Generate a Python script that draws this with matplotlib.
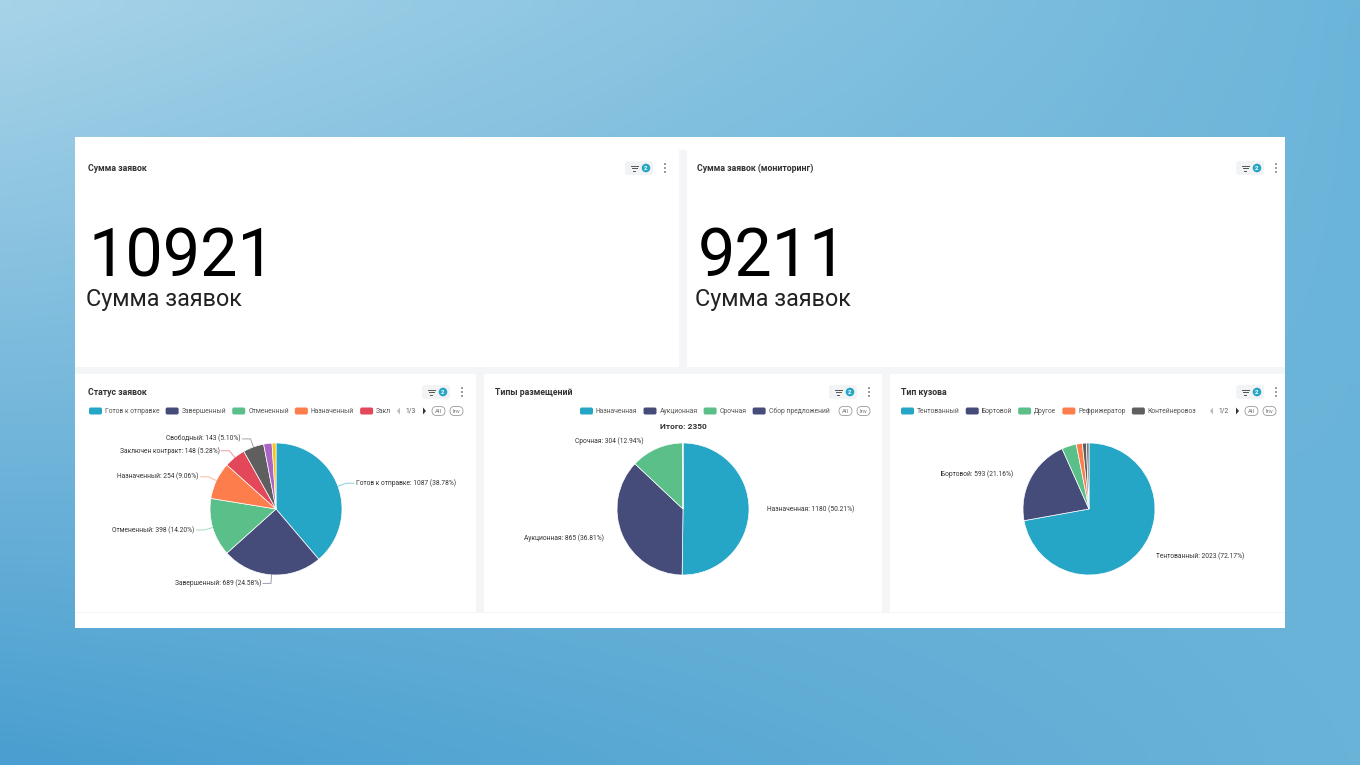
import numpy as np
import matplotlib
matplotlib.use('Agg')
import matplotlib.pyplot as plt
from matplotlib.patches import Rectangle, FancyBboxPatch, Circle, Polygon
from matplotlib.colors import to_rgb
from matplotlib.transforms import Bbox

plt.rcParams['font.family'] = ['Roboto', 'DejaVu Sans']

# --- data ---
orders_total = 10921
orders_monitoring = 9211
kpi_caption = 'Сумма заявок'

status_labels = ['Готов к отправке', 'Завершенный', 'Отмененный', 'Назначенный',
                 'Заключен контракт', 'Свободный', 'Просрочен', 'В работе']
status_values = [1087, 689, 398, 254, 148, 143, 57, 27]
status_colors = ['#26a6c7', '#464c7a', '#5bbf8a', '#fd7e4c', '#e2475a', '#5f5f5f', '#a964c4', '#f6c21c']

placement_labels = ['Назначенная', 'Аукционная', 'Срочная', 'Сбор предложений']
placement_values = [1180, 865, 304, 1]
placement_colors = ['#26a6c7', '#464c7a', '#5bbf8a', '#464c7a']

body_labels = ['Тентованный', 'Бортовой', 'Другое', 'Рефрижератор', 'Контейнеровоз', 'Изотермический']
body_values = [2023, 593, 100, 42, 27, 18]
body_colors = ['#26a6c7', '#464c7a', '#5bbf8a', '#fd7e4c', '#5f5f5f', '#7a7a7a']

W, H = 1360, 765
fig = plt.figure(figsize=(13.6, 7.65), dpi=100)
bg = fig.add_axes([0, 0, 1, 1])
bg.set_xlim(0, W)
bg.set_ylim(H, 0)
bg.axis('off')

# background gradient
tl, tr, bl, br = [np.array(to_rgb(c)) for c in ('#a7d3e8', '#6cb5da', '#4a9fd0', '#6ab3d8')]
u = np.linspace(0, 1, 60)[None, :, None]
v = np.linspace(0, 1, 40)[:, None, None]
grad = (1 - v) * ((1 - u) * tl + u * tr) + v * ((1 - u) * bl + u * br)
bg.imshow(grad, extent=(0, W, H, 0), interpolation='bilinear', aspect='auto', zorder=0)


def rect(x0, y0, x1, y1, color, z=1):
    bg.add_patch(Rectangle((x0, y0), x1 - x0, y1 - y0, facecolor=color, edgecolor='none', zorder=z))


rect(75, 137, 1285, 628, 'white')
rect(75, 150, 1285, 613, '#f4f5f7')
for box in [(75, 137, 679, 367), (687, 137, 1285, 367),
            (75, 374, 476, 612), (484, 374, 882, 612), (890, 374, 1285, 612)]:
    rect(*box, 'white', z=2)


def header(x, y, title, bx):
    bg.text(x, y, title, fontsize=6.3, fontweight='bold', color='#333333', va='center', zorder=3)
    bg.add_patch(FancyBboxPatch((bx, y - 7), 28, 14, boxstyle='round,pad=0,rounding_size=3',
                                fc='#f1f3f5', ec='none', zorder=3))
    for i, w in enumerate([7, 5, 2.5]):
        bg.plot([bx + 9 - w / 2, bx + 9 + w / 2], [y - 2.5 + i * 2.5] * 2, color='#555', lw=0.7, zorder=4)
    bg.add_patch(Circle((bx + 21, y), 4.3, fc='#26a6c7', ec='none', zorder=4))
    bg.text(bx + 21, y + 0.3, '2', fontsize=4.3, color='white', fontweight='bold', ha='center', va='center', zorder=5)
    for dy in (-4, 0, 4):
        bg.add_patch(Circle((bx + 40, y + dy), 0.9, fc='#666', ec='none', zorder=4))


def kpi(x, value, title, bx):
    header(x + 1, 168, title, bx)
    bg.text(x + 2, 276, str(value), fontsize=48, color='black', va='baseline', zorder=3)
    bg.text(x - 1, 306, kpi_caption, fontsize=16.8, color='#222', va='baseline', zorder=3)


kpi(87, orders_total, 'Сумма заявок', 625)
kpi(696, orders_monitoring, 'Сумма заявок (мониторинг)', 1236)

renderer = fig.canvas.get_renderer()


def legend(x, y, labels, colors, clip_x=None):
    for lab, col in zip(labels, colors):
        bg.add_patch(FancyBboxPatch((x, y - 3.5), 13, 7, boxstyle='round,pad=0,rounding_size=1.8',
                                    fc=col, ec='none', zorder=3))
        t = bg.text(x + 16, y, lab, fontsize=4.9, color='#555', va='center', zorder=3)
        w = t.get_window_extent(renderer=renderer).width
        if clip_x is not None and x + 16 + w > clip_x:
            # cut the label that runs into the pager, like the dashboard does
            s = lab
            while s and x + 16 + t.get_window_extent(renderer=renderer).width > clip_x + 4:
                s = s[:-1]
                t.set_text(s)
            t.set_clip_box(Bbox.from_extents(0, 0, clip_x, H))
            t.set_clip_on(True)
            break
        x = x + 16 + w + 6
        if clip_x is not None and x + 20 > clip_x:
            break


def pill(x, y, s):
    bg.add_patch(FancyBboxPatch((x, y - 4.5), 13, 9, boxstyle='round,pad=0,rounding_size=4.5',
                                fc='white', ec='#9a9a9a', lw=0.6, zorder=3))
    bg.text(x + 6.5, y, s, fontsize=4.3, color='#777', ha='center', va='center', zorder=4)


def pager(x, y, s):
    bg.add_patch(Polygon([[x + 3, y - 3.5], [x + 3, y + 3.5], [x, y]], fc='#bbbbbb', ec='none', zorder=3))
    bg.text(x + 14, y, s, fontsize=4.8, color='#555', ha='center', va='center', zorder=3)
    bg.add_patch(Polygon([[x + 26, y - 3.5], [x + 26, y + 3.5], [x + 29, y]], fc='#333', ec='none', zorder=3))


def draw_pie(cx, cy, r, values, labels, colors, n_labels, lines):
    ax = fig.add_axes([(cx - r) / W, 1 - (cy + r) / H, 2 * r / W, 2 * r / H])
    wedges, _ = ax.pie(values, colors=colors, startangle=90, counterclock=False, radius=1,
                       wedgeprops=dict(edgecolor='white', linewidth=0.5))
    ax.set_xlim(-1, 1)
    ax.set_ylim(-1, 1)
    ax.axis('off')
    total = sum(values)
    for w, lab, val in list(zip(wedges, labels, values))[:n_labels]:
        a = np.deg2rad((w.theta1 + w.theta2) / 2)
        c, s = np.cos(a), np.sin(a)
        side = 1 if c >= 0 else -1
        ex, ey = 1.13 * c, 1.13 * s
        if lines:
            ax.plot([c, ex, ex + side * 0.12], [s, ey, ey], color=w.get_facecolor(), lw=0.7,
                    alpha=0.55, clip_on=False)
        ax.text(ex + side * 0.15, ey, f'{lab}: {val} ({val / total * 100:.2f}%)', fontsize=4.8,
                color='#333', ha='left' if side > 0 else 'right', va='center', clip_on=False)


# Статус заявок
header(88, 392, 'Статус заявок', 422)
legend(89, 411, status_labels, status_colors, clip_x=390)
pager(397, 411, '1/3')
pill(432, 411, 'All')
pill(450, 411, 'Inv')
draw_pie(276, 509, 66, status_values, status_labels, status_colors, 6, True)

# Типы размещений
header(495, 392, 'Типы размещений', 829)
legend(580, 411, placement_labels, placement_colors)
pill(839, 411, 'All')
pill(857, 411, 'Inv')
bg.text(683, 426, f'Итого: {sum(placement_values)}', fontsize=6, fontweight='bold', color='#333',
        ha='center', va='center', zorder=3)
draw_pie(683, 509, 66, placement_values, placement_labels, placement_colors, 3, False)

# Тип кузова
header(901, 392, 'Тип кузова', 1236)
legend(901, 411, body_labels, body_colors, clip_x=1200)
pager(1210, 411, '1/2')
pill(1245, 411, 'All')
pill(1263, 411, 'Inv')
draw_pie(1089, 509, 66, body_values, body_labels, body_colors, 2, False)

fig.savefig('out.png', dpi=100)
